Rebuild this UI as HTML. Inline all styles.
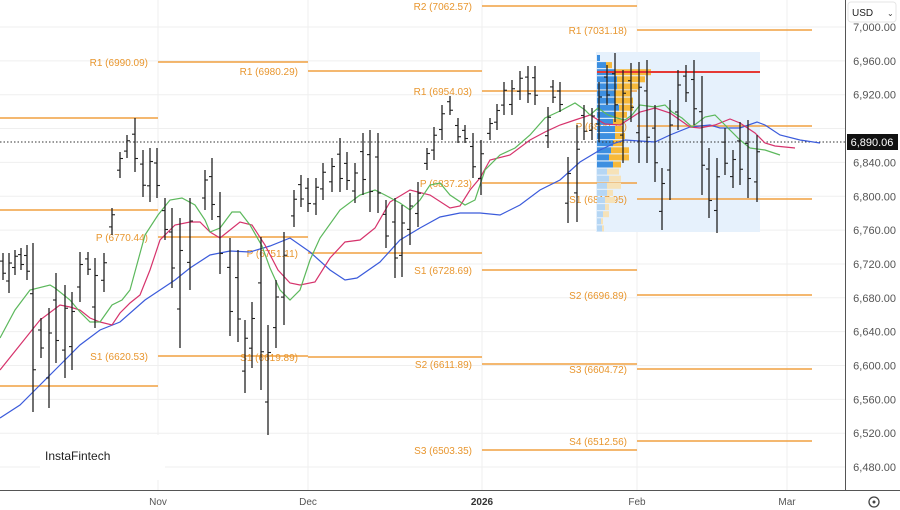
<!DOCTYPE html>
<html><head><meta charset="utf-8"><style>
html,body{margin:0;padding:0;background:#fff;width:900px;height:510px;overflow:hidden;font-family:"Liberation Sans",sans-serif}
svg text{font-family:"Liberation Sans",sans-serif}
</style></head><body>
<svg id="s" width="900" height="510" xmlns="http://www.w3.org/2000/svg">
<rect width="900" height="510" fill="#fff"/>
<g id="grid"></g>
<rect x="596" y="52" width="164" height="180" fill="#e6f1fc"/>
<g id="piv"></g>
<g id="vp"></g>
<line x1="597" y1="72" x2="760" y2="72" stroke="#e53935" stroke-width="2"/>
<line x1="0" y1="142" x2="845" y2="142" stroke="#333" stroke-width="1" stroke-dasharray="1.5,2"/>
<g id="ma"></g>
<g id="bars"></g>
<rect x="40" y="435" width="125" height="45" fill="#fff"/>
<text x="45" y="460" font-size="12" fill="#222">InstaFintech</text>
<rect x="845" y="0" width="55" height="510" fill="#fff"/>
<line x1="845.5" y1="0" x2="845.5" y2="490" stroke="#555" stroke-width="1"/>
<line x1="0" y1="490.5" x2="900" y2="490.5" stroke="#555" stroke-width="1"/>
<g id="ylab" font-size="11" fill="#555"></g>
<rect x="847" y="134" width="51" height="16" fill="#111"/>
<text x="872" y="146" font-size="11" fill="#fff" text-anchor="middle">6,890.06</text>
<rect x="848" y="2" width="48" height="20" rx="3" fill="#fff" stroke="#e5e5e5"/>
<text x="852" y="16" font-size="10" fill="#222">USD</text>
<text x="887" y="16" font-size="8" fill="#444">⌄</text>
<g font-size="10" fill="#555" text-anchor="middle">
<text x="158" y="505">Nov</text><text x="308" y="505">Dec</text>
<text x="482" y="505" font-weight="bold" fill="#333">2026</text>
<text x="637" y="505">Feb</text><text x="787" y="505">Mar</text>
</g>
<circle cx="874" cy="502" r="5" fill="none" stroke="#444" stroke-width="1.3"/><circle cx="874" cy="502" r="1.5" fill="#444"/>
</svg>
<script>
var NS="http://www.w3.org/2000/svg";
function el(p,t,a,tx){var e=document.createElementNS(NS,t);for(var k in a)e.setAttribute(k,a[k]);if(tx!=null)e.textContent=tx;document.getElementById(p).appendChild(e);return e;}
var labs=["7,000.00","6,960.00","6,920.00","6,880.00","6,840.00","6,800.00","6,760.00","6,720.00","6,680.00","6,640.00","6,600.00","6,560.00","6,520.00","6,480.00"];
for(var i=0;i<labs.length;i++){var y=27+i*33.85;el("grid","line",{x1:0,x2:845,y1:y,y2:y,stroke:"#efefef"});
 if(i!=3)el("ylab","text",{x:896,y:y+4,"text-anchor":"end"},labs[i]);}
[158,308,482,637,787].forEach(function(x){el("grid","line",{x1:x,x2:x,y1:0,y2:490,stroke:"#efefef"});});
var O="#f0a040";
var pv=[[0,158,118],[0,158,210],[0,158,386],
[158,308,62,"R1 (6990.09)"],[158,308,237,"P (6770.44)"],[158,308,356,"S1 (6620.53)"],
[308,482,71,"R1 (6980.29)"],[308,482,253,"P (6751.11)"],[308,482,357,"S1 (6619.89)"],
[482,637,6,"R2 (7062.57)"],[482,637,91,"R1 (6954.03)"],[482,637,183,"P (6837.23)"],[482,637,270,"S1 (6728.69)"],[482,637,364,"S2 (6611.89)"],[482,637,450,"S3 (6503.35)"],
[637,812,30,"R1 (7031.18)"],[637,812,126,"P (6890.11)"],[637,812,199,"S1 (6817.95)"],[637,812,295,"S2 (6696.89)"],[637,812,369,"S3 (6604.72)"],[637,812,441,"S4 (6512.56)"]];
pv.forEach(function(p){el("piv","line",{x1:p[0],x2:p[1],y1:p[2],y2:p[2],stroke:O,"stroke-width":1.5});
 if(p[3])el("piv","text",{x:p[0]-10,y:p[2]+4,"text-anchor":"end","font-size":10,fill:"#e8962e"},p[3]);});
var vp=[[3,0],[9,6],[18,36],[20,28],[20,22],[18,16],[18,18],[22,14],[18,12],[16,10],[18,8],[18,10],[16,10],[14,18],[12,20],[16,8],[10,12],[12,12],[10,14],[10,6],[8,10],[8,4],[6,6],[4,2],[5,2]];
for(var i=0;i<vp.length;i++){var y=55+i*7.1,lt=i>=16;
 el("vp","rect",{x:597,y:y,width:vp[i][0],height:6,fill:lt?"#b5d6f4":"#3d8fe0"});
 el("vp","rect",{x:597+vp[i][0],y:y,width:vp[i][1],height:6,fill:lt?"#f6e2b8":"#f7b93a"});}
function pl(pts,c){el("ma","polyline",{points:pts.map(function(p){return p.join(",")}).join(" "),fill:"none",stroke:c,"stroke-width":1.2});}
pl([[0,418],[20,405],[40,385],[60,365],[80,345],[100,330],[120,322],[145,300],[160,290],[175,280],[190,268],[210,255],[230,251],[250,252],[270,246],[290,238],[310,252],[330,270],[345,280],[357,278],[380,262],[400,240],[420,228],[440,217],[460,213],[480,213],[500,215],[520,205],[540,190],[560,180],[580,162],[600,150],[615,143],[625,140],[640,141],[655,142],[670,135],[690,127],[710,125],[720,128],[740,128],[757,122],[765,125],[780,135],[800,140],[820,143]],"#3b5bdb");
pl([[0,370],[20,345],[40,320],[60,305],[70,307],[80,310],[90,318],[100,322],[112,325],[120,313],[130,303],[140,295],[150,270],[160,240],[175,225],[190,222],[200,222],[210,232],[220,238],[230,230],[240,222],[252,225],[265,245],[278,270],[290,283],[300,285],[315,282],[330,258],[345,242],[360,240],[375,228],[390,202],[410,190],[430,195],[450,208],[460,206],[470,190],[480,178],[490,160],[510,155],[530,140],[545,132],[560,125],[575,120],[590,115],[605,124],[620,125],[640,112],[655,108],[670,113],[690,127],[700,128],[715,125],[730,119],[740,123],[755,133],[765,143],[775,146],[795,148]],"#d6336c");
pl([[0,338],[15,310],[30,290],[50,285],[55,288],[70,300],[80,312],[90,322],[100,322],[112,305],[122,300],[130,290],[145,235],[158,215],[170,200],[182,198],[195,205],[205,220],[210,232],[220,228],[232,212],[240,212],[250,225],[262,246],[270,268],[280,290],[290,300],[300,290],[310,260],[320,238],[340,210],[360,195],[375,190],[385,195],[400,203],[410,210],[420,200],[430,185],[440,183],[450,195],[465,205],[475,200],[485,170],[500,155],[515,148],[530,135],[545,118],[560,111],[575,103],[585,110],[590,115],[598,108],[608,115],[617,118],[625,120],[632,115],[640,105],[655,107],[665,105],[672,112],[682,118],[692,127],[705,117],[715,115],[725,125],[740,140],[750,148],[765,150],[780,155]],"#5cb85c");
var B=[[3,253,280],[9,253,293],[15,250,275],[21,248,270],[27,245,280],[33,243,412],[41,318,358],[49,308,408],[56,273,363],[65,285,378],[72,292,370],[80,252,302],[88,252,275],[95,258,328],[104,253,292],[112,208,235],[120,152,178],[127,135,158],[135,118,172],[143,150,197],[150,148,202],[157,148,198],[165,198,240],[172,208,288],[180,218,348],[190,198,290],[205,170,210],[212,158,220],[220,192,274],[230,238,336],[238,250,342],[245,320,393],[252,302,368],[261,237,390],[268,325,435],[276,280,348],[284,232,325],[294,190,227],[301,175,207],[308,178,212],[316,178,215],[323,163,200],[332,158,192],[340,138,192],[347,152,190],[355,163,203],[363,133,195],[370,130,212],[378,133,213],[386,200,248],[395,198,278],[402,205,277],[410,193,245],[418,182,227],[427,148,170],[434,127,160],[442,105,140],[450,96,115],[458,118,143],[465,125,143],[473,133,178],[481,140,195],[490,118,140],[497,104,130],[504,82,115],[512,80,115],[520,71,100],[528,66,103],[535,66,105],[548,107,148],[553,80,103],[560,82,112],[568,157,223],[577,125,222],[584,105,140],[592,108,140],[599,82,142],[607,65,105],[615,53,122],[623,70,163],[631,63,122],[639,62,163],[647,60,163],[655,105,182],[662,168,230],[670,100,200],[678,70,130],[686,65,102],[694,60,125],[702,76,195],[709,148,218],[717,158,233],[725,128,175],[733,150,188],[740,122,185],[748,120,198],[757,135,202]];
for(var i=0;i<B.length;i++){var b=B[i],h=b[2]-b[1],n=B[i+1];
 var up=n?(n[1]+n[2]<b[1]+b[2]):true;
 var o=up?b[2]-h*0.3:b[1]+h*0.3,c=up?b[1]+h*0.25:b[2]-h*0.25;
 el("bars","line",{x1:b[0],x2:b[0],y1:b[1],y2:b[2],stroke:"#222","stroke-width":1.3});
 el("bars","line",{x1:b[0]-3,x2:b[0],y1:o,y2:o,stroke:"#222","stroke-width":1.1});
 el("bars","line",{x1:b[0],x2:b[0]+3,y1:c,y2:c,stroke:"#222","stroke-width":1.1});}
</script>
</body></html>
